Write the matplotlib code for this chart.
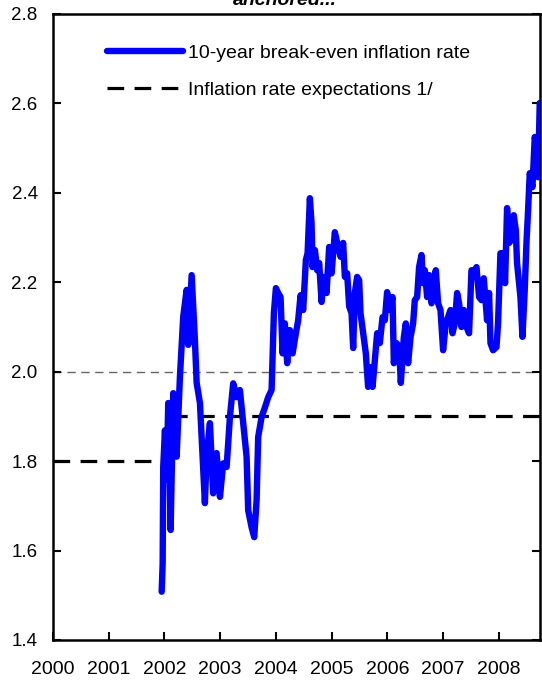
import matplotlib
matplotlib.use("Agg")
import matplotlib.pyplot as plt
from matplotlib.lines import Line2D

plt.rcParams['font.family'] = ['Liberation Sans', 'DejaVu Sans']
plt.rcParams['lines.scale_dashes'] = False

# 10-year break-even inflation rate (decimal year, percent)
bei_dates = [2001.950, 2001.968, 2001.978, 2002.009, 2002.039, 2002.068, 2002.111, 2002.158,
             2002.219, 2002.278, 2002.337, 2002.398, 2002.427, 2002.488, 2002.547, 2002.578,
             2002.637, 2002.667, 2002.726, 2002.757, 2002.816, 2002.875, 2002.936, 2002.996,
             2003.055, 2003.116, 2003.175, 2003.234, 2003.295, 2003.354, 2003.413, 2003.474,
             2003.503, 2003.564, 2003.611, 2003.654, 2003.682, 2003.744, 2003.803, 2003.862,
             2003.923, 2003.952, 2003.964, 2004.000, 2004.041, 2004.084, 2004.120, 2004.161,
             2004.203, 2004.251, 2004.300, 2004.359, 2004.400, 2004.443, 2004.490, 2004.538,
             2004.569, 2004.610, 2004.640, 2004.658, 2004.700, 2004.741, 2004.777, 2004.820,
             2004.861, 2004.909, 2004.956, 2004.999, 2005.058, 2005.117, 2005.161, 2005.207,
             2005.238, 2005.279, 2005.315, 2005.358, 2005.387, 2005.417, 2005.458, 2005.494,
             2005.519, 2005.566, 2005.614, 2005.655, 2005.699, 2005.735, 2005.776, 2005.817,
             2005.865, 2005.914, 2005.955, 2005.996, 2006.045, 2006.093, 2006.117, 2006.165,
             2006.212, 2006.242, 2006.296, 2006.332, 2006.373, 2006.416, 2006.463, 2006.493,
             2006.535, 2006.570, 2006.613, 2006.642, 2006.673, 2006.714, 2006.750, 2006.793,
             2006.822, 2006.870, 2006.911, 2006.954, 2007.001, 2007.049, 2007.090, 2007.134,
             2007.170, 2007.211, 2007.252, 2007.288, 2007.331, 2007.372, 2007.421, 2007.467,
             2007.510, 2007.552, 2007.600, 2007.647, 2007.690, 2007.731, 2007.767, 2007.790,
             2007.826, 2007.851, 2007.898, 2007.959, 2007.987, 2008.030, 2008.077, 2008.113,
             2008.149, 2008.185, 2008.228, 2008.269, 2008.305, 2008.328, 2008.364, 2008.389,
             2008.425, 2008.466, 2008.497, 2008.526, 2008.556, 2008.604, 2008.646, 2008.676,
             2008.705, 2008.735]
bei_values = [1.508, 1.572, 1.787, 1.869, 1.760, 1.930, 1.646, 1.952,
              1.810, 1.989, 2.123, 2.183, 2.060, 2.216, 2.070, 1.975,
              1.930, 1.854, 1.706, 1.810, 1.885, 1.728, 1.818, 1.720,
              1.795, 1.787, 1.899, 1.974, 1.943, 1.959, 1.885, 1.810,
              1.690, 1.652, 1.630, 1.713, 1.854, 1.899, 1.920, 1.943,
              1.959, 2.086, 2.131, 2.187, 2.176, 2.167, 2.041, 2.108,
              2.019, 2.093, 2.041, 2.086, 2.115, 2.171, 2.138, 2.250,
              2.265, 2.388, 2.332, 2.234, 2.272, 2.227, 2.243, 2.156,
              2.212, 2.176, 2.279, 2.220, 2.312, 2.279, 2.257, 2.288,
              2.212, 2.220, 2.146, 2.131, 2.053, 2.176, 2.212, 2.205,
              2.131, 2.086, 2.041, 1.966, 2.010, 1.966, 2.026, 2.086,
              2.064, 2.122, 2.115, 2.178, 2.138, 2.167, 2.019, 2.064,
              2.055, 1.975, 2.077, 2.108, 2.019, 2.077, 2.108, 2.160,
              2.167, 2.234, 2.261, 2.198, 2.227, 2.167, 2.216, 2.153,
              2.190, 2.227, 2.153, 2.138, 2.048, 2.108, 2.122, 2.138,
              2.086, 2.108, 2.176, 2.153, 2.100, 2.138, 2.100, 2.086,
              2.227, 2.223, 2.234, 2.167, 2.160, 2.209, 2.153, 2.115,
              2.176, 2.064, 2.048, 2.055, 2.108, 2.265, 2.265, 2.198,
              2.366, 2.288, 2.295, 2.350, 2.317, 2.243, 2.198, 2.167,
              2.078, 2.183, 2.288, 2.361, 2.444, 2.413, 2.525, 2.502,
              2.435, 2.601]

# Inflation rate expectations (step)
exp_dates = [2000.0, 2002.10, 2008.74]
exp_values = [1.8, 1.9, 1.9]

ref_level = 2.0
year_ticks = [2000, 2001, 2002, 2003, 2004, 2005, 2006, 2007, 2008]
value_ticks = [1.4, 1.6, 1.8, 2.0, 2.2, 2.4, 2.6, 2.8]

fig = plt.figure(figsize=(5.42, 6.81), dpi=100)
ax = fig.add_axes([53/542, 1-640/681, 487/542, 626/681])

ax.axhline(ref_level, color='#666666', lw=1.0, dashes=(6, 4), zorder=1)
ax.step(exp_dates, exp_values, where='post', color='black', lw=2.3,
        dashes=(12, 7.5), zorder=2, label='Inflation rate expectations 1/')
ax.plot(bei_dates, bei_values, color='#0000ff', lw=4.6, solid_joinstyle='round',
        solid_capstyle='round', zorder=3, label='10-year break-even inflation rate')

ax.set_xlim(2000, 2008.74)
ax.set_ylim(1.4, 2.8)
ax.set_xticks(year_ticks)
ax.set_xticklabels([str(y) for y in year_ticks])
ax.set_yticks(value_ticks)
ax.set_yticklabels([f"{v:.1f}" for v in value_ticks])
ax.tick_params(axis='x', direction='in', length=6, width=1.5, pad=15, labelsize=14)
ax.tick_params(axis='y', direction='in', length=6, width=1.5, pad=11, labelsize=13.5,
               right=True)
for s in ax.spines.values():
    s.set_linewidth(1.8)

handles = [Line2D([], [], color='#0000ff', lw=4.6, solid_capstyle='round'),
           Line2D([], [], color='black', lw=2.3, dashes=(12, 7.5))]
labels = ['10-year break-even inflation rate', 'Inflation rate expectations 1/']
fig.legend(handles, labels, loc='upper left', bbox_to_anchor=(107/542, 1-44/681),
           frameon=False, fontsize=14, handlelength=3.9, handletextpad=0.26,
           labelspacing=1.0, borderpad=0, borderaxespad=0)

fig.text(285/542, 1-5/681, 'anchored...', ha='center', va='baseline',
         fontsize=14, fontweight='bold', fontstyle='italic')

fig.savefig('out.png', dpi=100)
